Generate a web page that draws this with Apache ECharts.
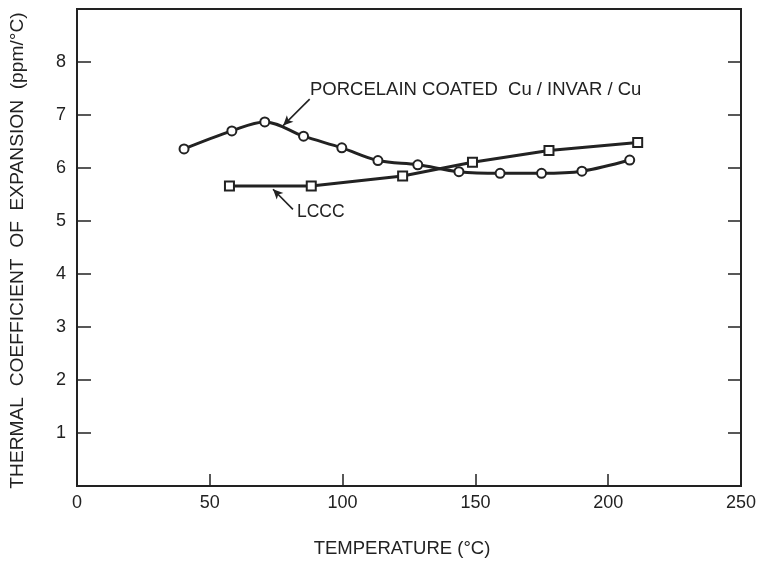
<!DOCTYPE html>
<html>
<head>
<meta charset="utf-8">
<title>Thermal coefficient of expansion vs temperature</title>
<script src="https://cdn.jsdelivr.net/npm/echarts@6/dist/echarts.min.js"></script>
<style>
  html, body { margin: 0; padding: 0; background: #fff; }
  #chart { width: 762px; height: 563px; }
</style>
</head>
<body>
<div id="chart"></div>
<script>
// Porcelain coated Cu/INVAR/Cu (circles, smooth curve)
const porcelainTemp = [40.3, 58.3, 70.7, 85.3, 99.7, 113.3, 128.3, 143.8, 159.3, 174.9, 190.1, 208.1];
const porcelainTce  = [6.36, 6.70, 6.87, 6.60, 6.38, 6.14, 6.06, 5.93, 5.90, 5.90, 5.94, 6.15];

// LCCC (squares, straight segments)
const lcccTemp = [57.4, 88.2, 122.6, 148.9, 177.7, 211.1];
const lcccTce  = [5.66, 5.66, 5.85, 6.11, 6.33, 6.48];

// Axis ticks
const xTicks = [0, 50, 100, 150, 200, 250];
const yTicks = [1, 2, 3, 4, 5, 6, 7, 8];

// Leader arrows for the curve labels, in data units
const porcelainArrow = [[87.6, 7.30], [77.6, 6.80]];
const lcccArrow = [[81.3, 5.22], [73.8, 5.60]];

const INK = '#222222';
const FONT = 'Liberation Sans';

const pair = (xs, ys) => xs.map((x, i) => [x, ys[i]]);

const chart = echarts.init(document.getElementById('chart'), null, { renderer: 'canvas' });

const leader = (pts) => ({
  silent: true,
  symbol: ['none', 'arrow'],
  symbolSize: [7, 10],
  lineStyle: { color: INK, width: 1.6, type: 'solid' },
  label: { show: false },
  emphasis: { disabled: true },
  data: [[{ coord: pts[0] }, { coord: pts[1] }]]
});

chart.setOption({
  backgroundColor: '#ffffff',
  animation: false,
  textStyle: { fontFamily: FONT, color: INK },
  grid: {
    left: 75, right: 21, top: 9, bottom: 76,
    show: true, borderColor: INK, borderWidth: 2, backgroundColor: 'transparent'
  },
  xAxis: [
    {
      type: 'value', min: 0, max: 250, interval: 50,
      name: 'TEMPERATURE (°C)', nameLocation: 'middle', nameGap: 53,
      nameTextStyle: { fontFamily: FONT, fontSize: 18.5, color: INK, padding: [0, 14, 0, 0] },
      axisLine: { show: true, lineStyle: { color: INK, width: 2 } },
      axisTick: { show: true, inside: true, length: 12, lineStyle: { color: INK, width: 1.5 } },
      axisLabel: {
        fontFamily: FONT, fontSize: 18, color: INK, margin: 8,
        customValues: xTicks
      },
      splitLine: { show: false }
    }
  ],
  yAxis: [
    {
      type: 'value', min: 0, max: 9, interval: 1,
      name: 'THERMAL  COEFFICIENT  OF  EXPANSION  (ppm/°C)', nameLocation: 'middle', nameGap: 50,
      nameRotate: 90,
      nameTextStyle: { fontFamily: FONT, fontSize: 19.2, color: INK, padding: [0, 0, 0, -6] },
      axisLine: { show: true, lineStyle: { color: INK, width: 2 } },
      axisTick: { show: true, inside: true, length: 14, lineStyle: { color: INK, width: 1.5 },
                  customValues: yTicks },
      axisLabel: {
        fontFamily: FONT, fontSize: 18, color: INK, margin: 11,
        customValues: yTicks
      },
      splitLine: { show: false }
    },
    {
      type: 'value', position: 'right', min: 0, max: 9, interval: 1,
      axisLine: { show: true, onZero: false, lineStyle: { color: INK, width: 2 } },
      axisTick: { show: true, inside: true, length: 13, lineStyle: { color: INK, width: 1.5 },
                  customValues: yTicks },
      axisLabel: { show: false }, splitLine: { show: false }
    }
  ],
  series: [
    {
      name: 'PORCELAIN COATED Cu/INVAR/Cu',
      type: 'line',
      data: pair(porcelainTemp, porcelainTce),
      smooth: 0.35,
      symbol: 'circle', symbolSize: 9,
      itemStyle: { color: '#ffffff', borderColor: INK, borderWidth: 2 },
      lineStyle: { color: INK, width: 3 },
      z: 3,
      markLine: leader(porcelainArrow)
    },
    {
      name: 'LCCC',
      type: 'line',
      data: pair(lcccTemp, lcccTce),
      smooth: false,
      symbol: 'rect', symbolSize: 9,
      itemStyle: { color: '#ffffff', borderColor: INK, borderWidth: 2 },
      lineStyle: { color: INK, width: 3 },
      z: 4,
      markLine: leader(lcccArrow)
    },
    {
      // binds the right-hand tick axis so it is laid out and drawn
      name: 'frame',
      type: 'line',
      yAxisIndex: 1,
      data: [],
      silent: true
    }
  ],
  graphic: [
    {
      type: 'text', left: 310, top: 80,
      style: { text: 'PORCELAIN COATED  Cu / INVAR / Cu', font: '18.5px "Liberation Sans"', fill: INK }
    },
    {
      type: 'text', left: 297, top: 203,
      style: { text: 'LCCC', font: '17.5px "Liberation Sans"', fill: INK }
    }
  ]
});
</script>
</body>
</html>
